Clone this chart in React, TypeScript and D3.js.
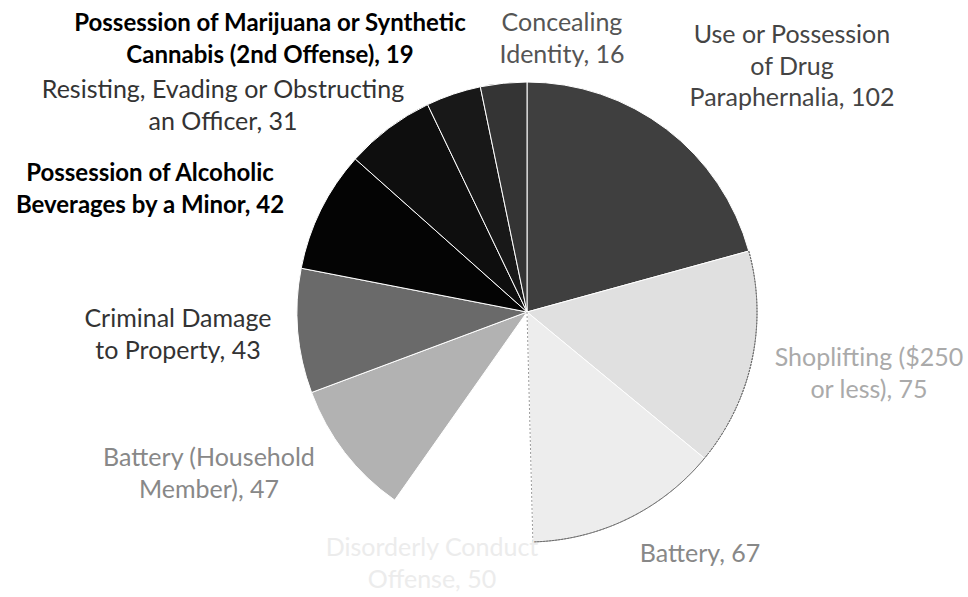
import { useEffect, useRef } from "react";
import * as d3 from "d3";

// offenses, clockwise from 12 o'clock
const categories = [
  "Use or Possession of Drug Paraphernalia",
  "Shoplifting ($250 or less)",
  "Battery",
  "Disorderly Conduct",
  "Battery (Household Member)",
  "Criminal Damage to Property",
  "Possession of Alcoholic Beverages by a Minor",
  "Resisting, Evading or Obstructing an Officer",
  "Possession of Marijuana or Synthetic Cannabis (2nd Offense)",
  "Concealing Identity",
];
const counts = [102, 75, 67, 50, 47, 43, 42, 31, 19, 16];

// how the label text is broken in the picture (last line gets ", n")
const labelLines = [
  ["Use or Possession", "of Drug", "Paraphernalia"],
  ["Shoplifting ($250", "or less)"],
  ["Battery"],
  ["Disorderly Conduct", "Offense"],
  ["Battery (Household", "Member)"],
  ["Criminal Damage", "to Property"],
  ["Possession of Alcoholic", "Beverages by a Minor"],
  ["Resisting, Evading or Obstructing", "an Officer"],
  ["Possession of Marijuana or Synthetic", "Cannabis (2nd Offense)"],
  ["Concealing", "Identity"],
];

const fills = ["#3f3f3f", "#e0e0e0", "#ededed", "#ffffff", "#b2b2b2", "#6a6a6a", "#040404", "#0e0e0e", "#181818", "#343434"];
const textColors = ["#444", "#aaa", "#888", "#ececec", "#888", "#333", "#000", "#333", "#000", "#555"];
const boldLabel = [false, false, false, false, false, false, true, false, true, false];
// centre of the first line of each label
const labelPos: [number, number][] = [
  [792, 37], [869, 360], [700, 556], [432, 550], [209, 460],
  [178, 321], [150, 175], [223, 92], [270, 25], [562, 25],
];

export default function App() {
  const ref = useRef<SVGSVGElement>(null);

  useEffect(() => {
    if (!ref.current) return;
    const svg = d3.select(ref.current);
    svg.selectAll("*").remove();

    const cx = 527, cy = 312, r = 230;
    const lineH = 31.5;

    const data = categories.map((c, i) => ({ c, v: counts[i], i }));
    const pie = d3.pie<any>().value(d => d.v).sort(null);
    const arcs = pie(data);
    const arc = d3.arc<any>().innerRadius(0).outerRadius(r);

    const g = svg.append("g").attr("transform", `translate(${cx},${cy})`);
    g.selectAll("path.slice")
      .data(arcs)
      .join("path")
      .attr("class", "slice")
      .attr("d", arc)
      .attr("fill", d => fills[d.data.i])
      .attr("stroke", "#fff")
      .attr("stroke-width", 1);

    // faint dotted outline on the pale side of the pie
    g.selectAll("path.edge")
      .data(arcs.filter(d => d.data.i >= 1 && d.data.i <= 2))
      .join("path")
      .attr("class", "edge")
      .attr("d", d => d3.arc()({ innerRadius: r, outerRadius: r, startAngle: d.startAngle, endAngle: d.endAngle })!)
      .attr("fill", "none")
      .attr("stroke", "#666")
      .attr("stroke-width", 1)
      .attr("stroke-dasharray", "2 1");

    // dotted border between Battery and the white slice
    const a = arcs[3].startAngle;
    g.append("line")
      .attr("x1", 0).attr("y1", 0)
      .attr("x2", r * Math.sin(a)).attr("y2", -r * Math.cos(a))
      .attr("stroke", "#999")
      .attr("stroke-width", 1)
      .attr("stroke-dasharray", "2 2");

    const labels = svg.append("g")
      .attr("font-family", "Lato, 'Open Sans', sans-serif")
      .attr("text-anchor", "middle");

    data.forEach(d => {
      const lines = labelLines[d.i].slice();
      lines[lines.length - 1] += `, ${d.v}`;
      const [x, y] = labelPos[d.i];
      const t = labels.append("text")
        .attr("fill", textColors[d.i])
        .attr("font-size", boldLabel[d.i] ? 24 : 25)
        .attr("font-weight", boldLabel[d.i] ? 700 : 400)
        .attr("dominant-baseline", "middle");
      lines.forEach((ln, k) => {
        t.append("tspan").attr("x", x).attr("y", y + k * lineH).text(ln);
      });
    });
  }, []);

  return (
    <svg
      ref={ref}
      width={968}
      height={597}
      style={{ position: "absolute", left: 0, top: 0, display: "block" }}
    />
  );
}
